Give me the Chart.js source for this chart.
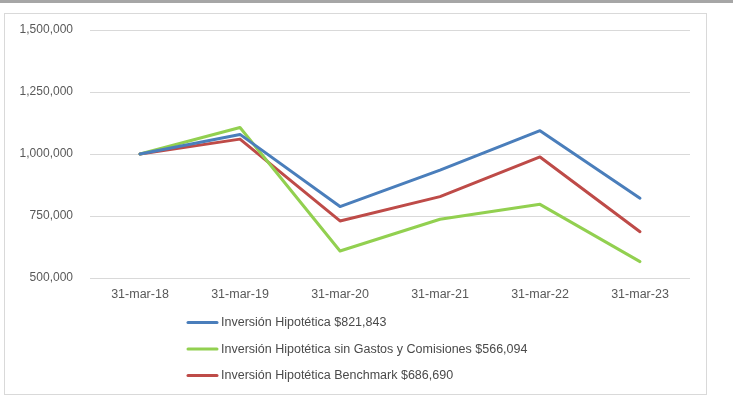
<!DOCTYPE html>
<html>
<head>
<meta charset="utf-8">
<script src="https://cdn.jsdelivr.net/npm/chart.js@4/dist/chart.umd.min.js"></script>
<style>
  html, body { margin: 0; padding: 0; background: #ffffff; }
  #wrap { position: relative; width: 733px; height: 408px; }
  canvas { display: block; }
</style>
</head>
<body>
<div id="wrap"><canvas id="c" width="733" height="408"></canvas></div>
<script>
const categories = ['31-mar-18', '31-mar-19', '31-mar-20', '31-mar-21', '31-mar-22', '31-mar-23'];
const inversionHipotetica = [1000000, 1079000, 788000, 935000, 1094000, 821843];
const sinGastosComisiones = [1000000, 1107000, 609000, 737000, 797000, 566094];
const benchmark = [1000000, 1060000, 730000, 828000, 988000, 686690];
const seriesLabels = [
  'Inversión Hipotética $821,843',
  'Inversión Hipotética sin Gastos y Comisiones $566,094',
  'Inversión Hipotética Benchmark $686,690'
];
const yMin = 500000, yMax = 1500000, yStep = 250000;

const FONT = '"Liberation Sans", Arial, sans-serif';

const framePlugin = {
  id: 'frame',
  beforeDraw(chart) {
    const ctx = chart.ctx;
    ctx.save();
    ctx.fillStyle = '#ffffff';
    ctx.fillRect(0, 0, chart.width, chart.height);
    ctx.fillStyle = '#a6a6a6';
    ctx.fillRect(0, 0, chart.width, 3);
    ctx.strokeStyle = '#d9d9d9';
    ctx.lineWidth = 1;
    ctx.strokeRect(4.5, 13.5, 702, 381);
    ctx.restore();
  }
};

const legendPlugin = {
  id: 'vlegend',
  afterDraw(chart) {
    const ctx = chart.ctx;
    ctx.save();
    chart.data.datasets.forEach((ds, i) => {
      const y = 322.5 + i * 26.5;
      ctx.strokeStyle = ds.borderColor;
      ctx.lineWidth = 3;
      ctx.lineCap = 'round';
      ctx.beginPath();
      ctx.moveTo(188, y);
      ctx.lineTo(217, y);
      ctx.stroke();
      ctx.fillStyle = '#4a4a4a';
      ctx.font = '12.5px ' + FONT;
      ctx.textBaseline = 'middle';
      ctx.textAlign = 'left';
      ctx.fillText(ds.label, 221, y + 0.5);
    });
    ctx.restore();
  }
};

const makeDs = (label, data, color) => ({
  label, data,
  borderColor: color,
  backgroundColor: color,
  borderWidth: 3,
  pointRadius: 0,
  pointHoverRadius: 0,
  tension: 0,
  fill: false,
  borderCapStyle: 'round',
  borderJoinStyle: 'round'
});

new Chart(document.getElementById('c'), {
  type: 'line',
  data: {
    labels: categories,
    datasets: [
      makeDs(seriesLabels[0], inversionHipotetica, '#4a7ebb'),
      makeDs(seriesLabels[1], sinGastosComisiones, '#92d050'),
      makeDs(seriesLabels[2], benchmark, '#be4b48')
    ]
  },
  options: {
    responsive: false,
    animation: false,
    events: [],
    layout: { padding: { left: 10, right: 43, top: 30, bottom: 100 } },
    plugins: {
      legend: { display: false },
      tooltip: { enabled: false },
      title: { display: false }
    },
    scales: {
      x: {
        type: 'category',
        offset: true,
        grid: { display: false, drawTicks: false },
        border: { display: false },
        ticks: {
          color: '#595959',
          font: { family: FONT, size: 12.5 },
          padding: 9,
          maxRotation: 0,
          autoSkip: false
        },
        afterFit(scale) { scale.height = 30; }
      },
      y: {
        min: yMin,
        max: yMax,
        grid: { color: '#d9d9d9', lineWidth: 1, drawTicks: false },
        border: { display: false },
        ticks: {
          stepSize: yStep,
          color: '#595959',
          font: { family: FONT, size: 12 },
          padding: 17,
          callback: (v) => Number(v).toLocaleString('en-US')
        },
        afterFit(scale) { scale.width = 80; }
      }
    }
  },
  plugins: [framePlugin, legendPlugin]
});
</script>
</body>
</html>
